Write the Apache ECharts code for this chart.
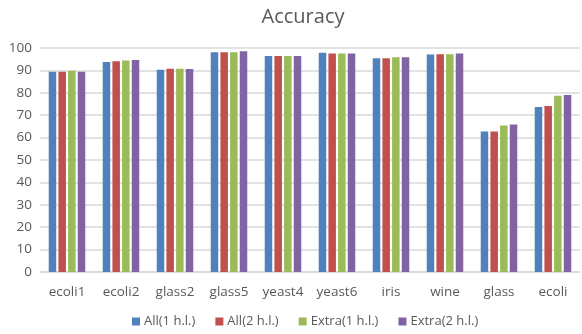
<!DOCTYPE html>
<html><head><meta charset="utf-8">
<script src="https://cdn.jsdelivr.net/npm/echarts@6/dist/echarts.min.js"></script>
<style>html,body{margin:0;padding:0;background:#fff}#c{width:582px;height:334px}</style>
</head><body><div id="c"></div>
<script>
const categories = ['ecoli1','ecoli2','glass2','glass5','yeast4','yeast6','iris','wine','glass','ecoli'];
const seriesNames = ['All(1 h.l.)','All(2 h.l.)','Extra(1 h.l.)','Extra(2 h.l.)'];
const all1 = [89.4, 93.8, 90.3, 98.1, 96.4, 97.9, 95.4, 97.1, 62.7, 73.7];
const all2 = [89.4, 94.1, 90.7, 98.1, 96.4, 97.6, 95.4, 97.2, 62.7, 74.1];
const extra1 = [89.8, 94.4, 90.7, 98.1, 96.4, 97.6, 95.9, 97.2, 65.4, 78.7];
const extra2 = [89.4, 94.6, 90.6, 98.6, 96.4, 97.6, 95.9, 97.5, 65.8, 79.0];
const yTicks = [0,10,20,30,40,50,60,70,80,90,100];
const colors = ['#4F81BD','#C0504D','#9BBB59','#8064A2'];
const data = [all1, all2, extra1, extra2];
const font = 'Open Sans';
const chart = echarts.init(document.getElementById('c'));
chart.setOption({
  animation:false,
  title:{text:'Accuracy',left:298,textAlign:'center',top:2,textStyle:{fontFamily:font,fontSize:20,fontWeight:'normal',color:'#595959'}},
  grid:{left:40,right:2,top:48,bottom:62},
  legend:{bottom:1,left:127,itemWidth:8,itemHeight:8,itemGap:20,icon:'rect',
    textStyle:{fontFamily:font,fontSize:13,color:'#595959',padding:[0,0,0,-1]},data:seriesNames},
  xAxis:{type:'category',data:categories,
    axisLine:{lineStyle:{color:'#D9D9D9',width:1.5}},axisTick:{show:false},
    axisLabel:{fontFamily:font,fontSize:13.5,color:'#595959',margin:13}},
  yAxis:{type:'value',min:yTicks[0],max:yTicks[yTicks.length-1],interval:10,
    axisLine:{show:false},axisTick:{show:false},
    splitLine:{lineStyle:{color:'#D9D9D9',width:1.5}},
    axisLabel:{fontFamily:font,fontSize:13.5,color:'#595959',margin:8}},
  series:seriesNames.map((n,i)=>({name:n,type:'bar',data:data[i],barWidth:7.5,barGap:'29%',
    itemStyle:{color:colors[i]}}))
});
</script></body></html>
